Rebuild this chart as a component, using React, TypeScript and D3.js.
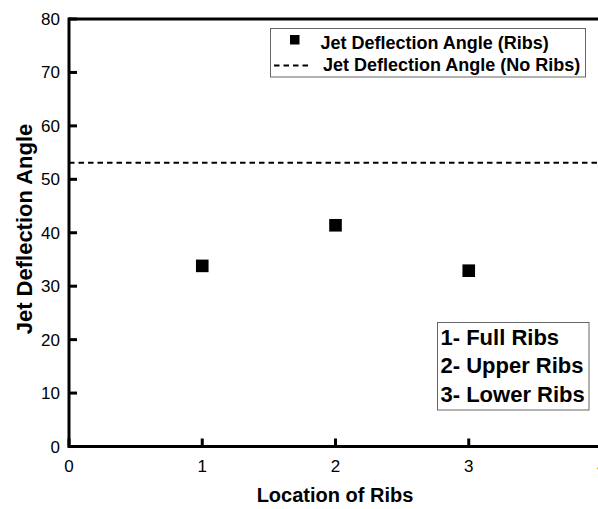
import React from "react";
import * as d3 from "d3";

const locations = [1, 2, 3];
const angles = [33.8, 41.4, 32.9];
const noRibsAngle = 53.1;
const xTicks = [0, 1, 2, 3, 4];
const yTicks = [0, 10, 20, 30, 40, 50, 60, 70, 80];
const noteLines = ["1- Full Ribs", "2- Upper Ribs", "3- Lower Ribs"];
const legendLabels = ["Jet Deflection Angle (Ribs)", "Jet Deflection Angle (No Ribs)"];

export default function App() {
  const W = 598, H = 509;
  const x = d3.scaleLinear().domain([0, 4]).range([69, 602]);
  const y = d3.scaleLinear().domain([0, 80]).range([446.5, 19]);
  const font = "Liberation Sans, Arial, sans-serif";
  return (
    <svg width={W} height={H} style={{ position: "absolute", left: 0, top: 0 }} fontFamily={font}>
      <rect width={W} height={H} fill="#fff" />
      {/* dashed no-ribs line */}
      <line x1={x(0)} x2={W} y1={y(noRibsAngle)} y2={y(noRibsAngle)} stroke="#000" strokeWidth={1.8} strokeDasharray="5.5,4" />
      {/* points */}
      {locations.map((l, i) => (
        <rect key={i} x={x(l) - 6.3} y={y(angles[i]) - 6.3} width={12.6} height={12.6} fill="#000" />
      ))}
      {/* axes */}
      <line x1={x(0)} x2={W} y1={y(80)} y2={y(80)} stroke="#000" strokeWidth={3} />
      <line x1={x(0)} x2={W} y1={y(0)} y2={y(0)} stroke="#000" strokeWidth={3} />
      <line x1={x(0)} x2={x(0)} y1={y(80) - 1.5} y2={y(0) + 1.5} stroke="#000" strokeWidth={3} />
      {yTicks.map((t) => (
        <g key={"y" + t}>
          <line x1={x(0)} x2={x(0) + 8} y1={y(t)} y2={y(t)} stroke="#000" strokeWidth={3} />
          <text x={60} y={y(t) + 6} textAnchor="end" fontSize={17}>{t}</text>
        </g>
      ))}
      {xTicks.map((t) => (
        <g key={"x" + t}>
          <line x1={x(t)} x2={x(t)} y1={y(0)} y2={y(0) - 8} stroke="#000" strokeWidth={3} />
          <text x={x(t)} y={472} textAnchor="middle" fontSize={17}>{t}</text>
        </g>
      ))}
      <text x={335} y={502} textAnchor="middle" fontSize={20} fontWeight="bold">Location of Ribs</text>
      <text transform={`translate(32,229) rotate(-90)`} textAnchor="middle" fontSize={22} fontWeight="bold">Jet Deflection Angle</text>
      {/* legend */}
      <rect x={270.5} y={28.5} width={315} height={48.5} fill="#fff" stroke="#666" strokeWidth={1} />
      <rect x={290} y={35} width={9.5} height={9.5} fill="#000" />
      <text x={320.5} y={48.5} fontSize={18} fontWeight="bold">{legendLabels[0]}</text>
      <line x1={274} x2={309} y1={65.5} y2={65.5} stroke="#000" strokeWidth={1.8} strokeDasharray="5.5,4" />
      <text x={323} y={71} fontSize={18} fontWeight="bold">{legendLabels[1]}</text>
      {/* notes box */}
      <rect x={437.5} y={322.5} width={151.5} height={87.5} fill="#fff" stroke="#666" strokeWidth={1} />
      {noteLines.map((s, i) => (
        <text key={s} x={440.5} y={345 + i * 28.3} fontSize={22} fontWeight="bold">{s}</text>
      ))}
    </svg>
  );
}
